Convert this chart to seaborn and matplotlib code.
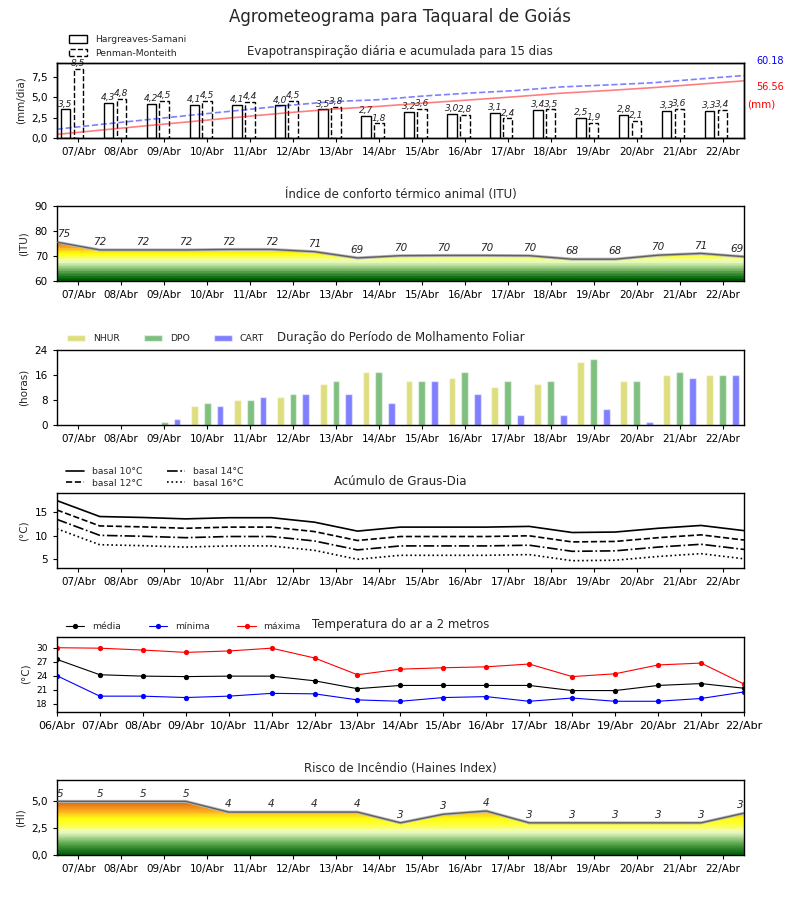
import numpy as np
import seaborn as sns
import matplotlib.pyplot as plt
from matplotlib.colors import LinearSegmentedColormap
from matplotlib.patches import PathPatch, Patch

dias = ['07/Abr', '08/Abr', '09/Abr', '10/Abr', '11/Abr', '12/Abr', '13/Abr', '14/Abr',
        '15/Abr', '16/Abr', '17/Abr', '18/Abr', '19/Abr', '20/Abr', '21/Abr', '22/Abr']
dias_temp = ['06/Abr'] + dias

# evapotranspiracao (mm/dia)
et_hs = [3.5, 4.3, 4.2, 4.1, 4.1, 4.0, 3.5, 2.7, 3.2, 3.0, 3.1, 3.4, 2.5, 2.8, 3.3, 3.3]
et_pm = [8.5, 4.8, 4.5, 4.5, 4.4, 4.5, 3.8, 1.8, 3.6, 2.8, 2.4, 3.5, 1.9, 2.1, 3.6, 3.4]
acum_hs_txt = '56.56'
acum_pm_txt = '60.18'

# ITU (pontos na virada de cada dia)
itu = [75.7, 72.6, 72.6, 72.6, 72.8, 72.8, 71.9, 69.4, 70.3, 70.4, 70.4, 70.3,
       68.9, 68.9, 70.5, 71.2, 69.9]

# molhamento foliar (horas)
nhur = [0, 0, 0, 6, 8, 9, 13, 17, 14, 15, 12, 13, 20, 14, 16, 16]
dpo = [0, 0, 1, 7, 8, 10, 14, 17, 14, 17, 14, 14, 21, 14, 17, 16]
cart = [0, 0, 2, 6, 9, 10, 10, 7, 14, 10, 3, 3, 5, 1, 15, 16]

# graus-dia
gd10 = [17.5, 14.1, 13.9, 13.6, 13.85, 13.85, 12.9, 11.0, 11.85, 11.85, 11.85, 12.0, 10.7, 10.8, 11.6, 12.2, 11.1]
gd12 = [15.5, 12.1, 11.9, 11.6, 11.85, 11.85, 10.9, 9.0, 9.85, 9.85, 9.85, 10.0, 8.7, 8.8, 9.6, 10.2, 9.1]
gd14 = [13.5, 10.1, 9.9, 9.6, 9.85, 9.85, 8.9, 7.0, 7.85, 7.85, 7.85, 8.0, 6.7, 6.8, 7.6, 8.2, 7.1]
gd16 = [11.5, 8.1, 7.9, 7.6, 7.85, 7.85, 6.9, 5.0, 5.85, 5.85, 5.85, 6.0, 4.7, 4.8, 5.6, 6.2, 5.1]

# temperatura do ar a 2 m
t_med = [27.5, 24.2, 23.9, 23.8, 23.9, 23.9, 22.9, 21.2, 21.9, 21.9, 21.9, 21.9, 20.8, 20.8, 21.9, 22.3, 21.3]
t_min = [24.0, 19.6, 19.6, 19.3, 19.6, 20.2, 20.1, 18.8, 18.5, 19.3, 19.5, 18.5, 19.2, 18.5, 18.5, 19.1, 20.5]
t_max = [30.0, 29.9, 29.5, 29.0, 29.3, 29.9, 27.8, 24.2, 25.4, 25.7, 25.9, 26.5, 23.8, 24.4, 26.3, 26.7, 22.2]

# Haines
haines = [5, 5, 5, 5, 4, 4, 4, 4, 3, 3.8, 4.1, 3, 3, 3, 3, 3, 3.9]

sns.set_style('ticks', {'axes.edgecolor': 'black', 'xtick.color': 'black', 'ytick.color': 'black',
                        'xtick.direction': 'out', 'ytick.direction': 'out'})
plt.rcParams['font.family'] = ['DejaVu Sans']
plt.rcParams['xtick.major.size'] = 3
plt.rcParams['ytick.major.size'] = 3
plt.rcParams['axes.linewidth'] = 1.0

cmap_itu = LinearSegmentedColormap.from_list('itu', [
    (0.0, '#005a00'), (1.5 / 30, '#1e7a1e'), (3 / 30, '#4f9a45'), (4.5 / 30, '#86bf70'),
    (6 / 30, '#bfe0a0'), (7.5 / 30, '#eaffc0'), (8.5 / 30, '#f6ff90'), (9.5 / 30, '#ffff30'),
    (11 / 30, '#ffff00'), (12 / 30, '#ffd020'), (13.5 / 30, '#f5a020'), (15 / 30, '#e07020'),
    (20 / 30, '#c03010'), (1.0, '#a00000')], N=30)
cmap_hi = LinearSegmentedColormap.from_list('hi', [
    (0.0, '#0b5e0b'), (0.5 / 7, '#2a822a'), (1.0 / 7, '#5ba84d'), (1.5 / 7, '#9fd087'),
    (2.0 / 7, '#e4f7c2'), (2.3 / 7, '#f5ffa0'), (2.7 / 7, '#ffff40'), (3.3 / 7, '#ffff10'),
    (3.7 / 7, '#ffd820'), (4.0 / 7, '#ffb020'), (4.5 / 7, '#ee8a18'), (5.0 / 7, '#d06010'),
    (1.0, '#a03000')], N=56)


def gradient_area(ax, x, y, cmap, ymin, ymax):
    poly = ax.fill_between(x, ymin, y, facecolor='none', edgecolor='none')
    clip = PathPatch(poly.get_paths()[0], transform=ax.transData, facecolor='none', edgecolor='none')
    ax.add_patch(clip)
    grad = np.linspace(ymin, ymax, 300).reshape(-1, 1)
    im = ax.imshow(grad, aspect='auto', cmap=cmap, origin='lower',
                   extent=[x[0], x[-1], ymin, ymax], zorder=1)
    im.set_clip_path(clip)
    sns.lineplot(x=x, y=y, ax=ax, color='#bbbbbb', lw=2.2, zorder=2)
    sns.lineplot(x=x, y=y, ax=ax, color='#606060', lw=1.0, zorder=3)
    for i, (xi, yi) in enumerate(zip(x, y)):
        ha = 'left' if i == 0 else ('right' if i == len(x) - 1 else 'center')
        ax.annotate(str(int(yi)), (xi, yi), xytext=(0, 2), textcoords='offset points',
                    ha=ha, va='bottom', fontsize=7.5, style='italic', zorder=4)


def dias_axis(ax):
    ax.set_xlim(-0.5, 15.5)
    ax.set_xticks(range(len(dias)))
    ax.set_xticklabels(dias, fontsize=7.5)


fig, axes = plt.subplots(6, 1, figsize=(8, 9), dpi=100)
fig.subplots_adjust(left=0.071, right=0.93, top=0.93, bottom=0.05, hspace=0.91)
fig.suptitle('Agrometeograma para Taquaral de Goiás', fontsize=12, y=0.992)

x = np.arange(len(dias))
xb = np.arange(len(itu)) - 0.5

# 1) Evapotranspiracao
ax = axes[0]
ax.bar(x - 0.3, et_hs, width=0.22, facecolor='white', edgecolor='black', lw=1, zorder=2)
ax.bar(x, et_pm, width=0.22, facecolor='white', edgecolor='black', lw=1, linestyle='--', zorder=2)
for xi, v in zip(x, et_hs):
    ax.text(xi - 0.3, v + 0.1, f'{v:.1f}'.replace('.', ','), ha='center', va='bottom',
            fontsize=6.5, style='italic')
for xi, v in zip(x, et_pm):
    ax.text(xi, v + 0.1, f'{v:.1f}'.replace('.', ','), ha='center', va='bottom',
            fontsize=6.5, style='italic')
ax.set_ylim(0, max(et_pm) * 1.08)
ax.set_yticks([0, 2.5, 5, 7.5])
ax.set_yticklabels(['0,0', '2,5', '5,0', '7,5'], fontsize=7.5)
ax.set_ylabel('(mm/dia)', fontsize=7.5)
ax.set_title('Evapotranspiração diária e acumulada para 15 dias', fontsize=8.5)
dias_axis(ax)
ax2 = ax.twinx()
xl = np.linspace(-0.5, 15.5, len(dias))
acum_hs = np.cumsum(et_hs)
acum_pm = np.cumsum(et_pm)
sns.lineplot(x=xl, y=acum_hs, ax=ax2, color='red', alpha=0.5, lw=1.2)
sns.lineplot(x=xl, y=acum_pm, ax=ax2, color='blue', alpha=0.5, lw=1.2, linestyle='--')
ax2.set_ylim(0, acum_pm[-1] * 1.2)
ax2.set_yticks([])
ax2.set_ylabel('')
ax2.set_xlim(-0.5, 15.5)
ax.text(1.018, 0.99, acum_pm_txt, transform=ax.transAxes, color='blue', fontsize=7)
ax.text(1.018, 0.64, acum_hs_txt, transform=ax.transAxes, color='red', fontsize=7)
ax.text(1.004, 0.41, '(mm)', transform=ax.transAxes, color='red', fontsize=7.5)
ax.legend(handles=[Patch(facecolor='white', edgecolor='black', label='Hargreaves-Samani'),
                   Patch(facecolor='white', edgecolor='black', linestyle='--', label='Penman-Monteith')],
          loc='lower left', bbox_to_anchor=(0.012, 1.02), frameon=False, fontsize=6.7,
          borderaxespad=0, handlelength=2, handleheight=0.9)

# 2) ITU
ax = axes[1]
gradient_area(ax, xb, itu, cmap_itu, 60, 90)
dias_axis(ax)
ax.set_ylim(60, 90)
ax.set_yticks([60, 70, 80, 90])
ax.tick_params(axis='y', labelsize=7.5)
ax.set_ylabel('(ITU)', fontsize=7.5)
ax.set_title('Índice de conforto térmico animal (ITU)', fontsize=8.5)

# 3) Molhamento foliar
ax = axes[2]
ax.bar(x - 0.3, nhur, width=0.16, color='y', alpha=0.5, label='NHUR')
ax.bar(x, dpo, width=0.16, color='g', alpha=0.5, label='DPO')
ax.bar(x + 0.3, cart, width=0.16, color='b', alpha=0.5, label='CART')
dias_axis(ax)
ax.set_ylim(0, 24)
ax.set_yticks([0, 8, 16, 24])
ax.tick_params(axis='y', labelsize=7.5)
ax.set_ylabel('(horas)', fontsize=7.5)
ax.set_title('Duração do Período de Molhamento Foliar', fontsize=8.5)
ax.legend(loc='lower left', bbox_to_anchor=(0.005, 1.0), ncol=3, frameon=False, fontsize=6.7,
          borderaxespad=0.3, columnspacing=2.6)

# 4) Graus-dia
ax = axes[3]
sns.lineplot(x=xb, y=gd10, ax=ax, color='black', lw=1.2, linestyle='-', label='basal 10°C')
sns.lineplot(x=xb, y=gd12, ax=ax, color='black', lw=1.2, linestyle='--', label='basal 12°C')
sns.lineplot(x=xb, y=gd14, ax=ax, color='black', lw=1.2, linestyle='-.', label='basal 14°C')
sns.lineplot(x=xb, y=gd16, ax=ax, color='black', lw=1.2, linestyle=':', label='basal 16°C')
dias_axis(ax)
ax.set_ylim(3.1, max(gd10) * 1.09)
ax.set_yticks([5, 10, 15])
ax.tick_params(axis='y', labelsize=7.5)
ax.set_ylabel('(°C)', fontsize=7.5)
ax.set_title('Acúmulo de Graus-Dia', fontsize=8.5)
ax.legend(loc='lower left', bbox_to_anchor=(0.005, 1.0), ncol=2, frameon=False, fontsize=6.7,
          borderaxespad=0.2, columnspacing=2.6, labelspacing=0.3)

# 5) Temperatura
ax = axes[4]
xt = np.arange(len(dias_temp))
sns.lineplot(x=xt, y=t_med, ax=ax, color='black', lw=0.8, marker='o', markersize=3.8,
             markeredgewidth=0, label='média')
sns.lineplot(x=xt, y=t_min, ax=ax, color='blue', lw=0.8, marker='o', markersize=3.8,
             markeredgewidth=0, label='mínima')
sns.lineplot(x=xt, y=t_max, ax=ax, color='red', lw=0.8, marker='o', markersize=3.8,
             markeredgewidth=0, label='máxima')
ax.set_xlim(0, 16)
ax.set_xticks(xt)
ax.set_xticklabels(dias_temp, fontsize=8)
ax.set_ylim(min(t_min) * 0.88, max(t_max) * 1.08)
ax.set_yticks([18, 21, 24, 27, 30])
ax.tick_params(axis='y', labelsize=6.5)
ax.set_ylabel('(°C)', fontsize=7.5)
ax.set_title('Temperatura do ar a 2 metros', fontsize=8.5)
ax.legend(loc='lower left', bbox_to_anchor=(0.005, 1.0), ncol=3, frameon=False, fontsize=6.7,
          borderaxespad=0.2, columnspacing=3.0)

# 6) Haines
ax = axes[5]
gradient_area(ax, xb, haines, cmap_hi, 0, 7)
dias_axis(ax)
ax.set_ylim(0, 7)
ax.set_yticks([0, 2.5, 5])
ax.set_yticklabels(['0,0', '2,5', '5,0'], fontsize=7.5)
ax.set_ylabel('(HI)', fontsize=7.5)
ax.set_title('Risco de Incêndio (Haines Index)', fontsize=8.5)

fig.savefig('out.png', dpi=100)
